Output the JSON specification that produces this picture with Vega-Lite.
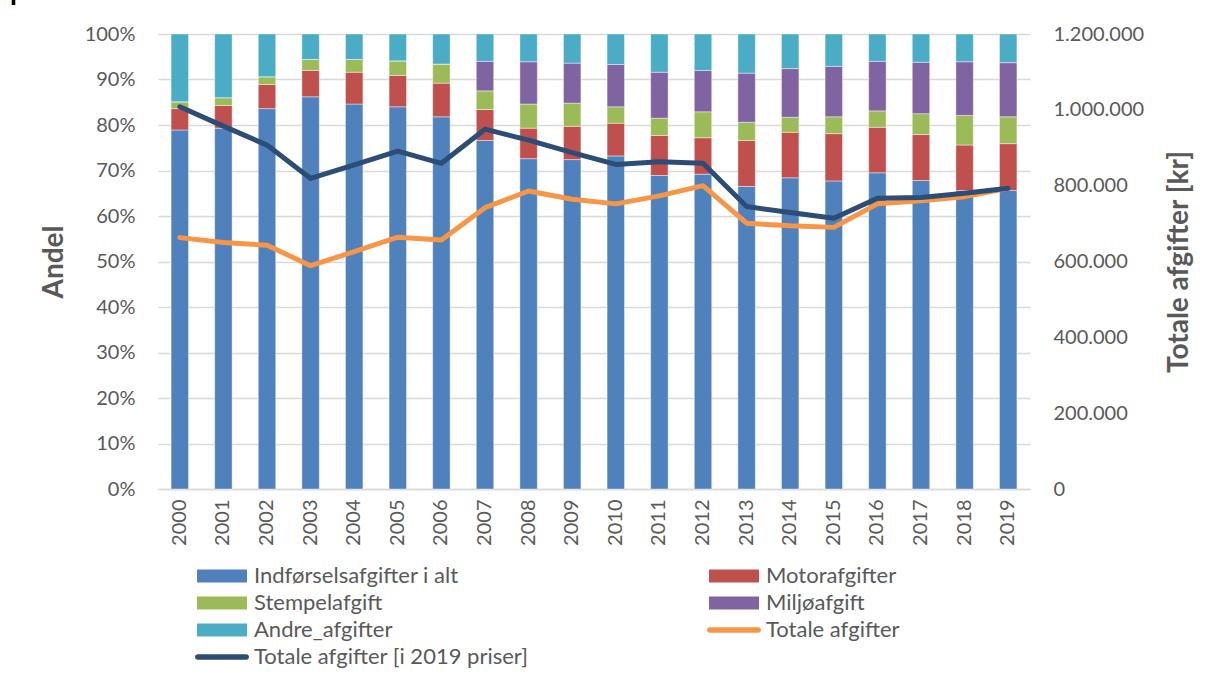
{
  "$schema": "https://vega.github.io/schema/vega-lite/v6.json",
  "autosize": {"type": "none"},
  "padding": {"left": 158, "top": 34, "right": 176, "bottom": 188},
  "width": 872,
  "height": 455,
  "background": "white",
  "title": {"text": "priser.", "anchor": "start", "frame": "group", "orient": "top", "font": "Lato", "fontSize": 28, "fontWeight": "bold", "color": "#000000", "baseline": "alphabetic", "offset": 0, "dx": -148, "dy": 4},
  "datasets": {
    "bars": [
      {"year": "2000", "series": "Indførselsafgifter i alt", "k": 1, "share": 78.9},
      {"year": "2000", "series": "Motorafgifter", "k": 2, "share": 4.7},
      {"year": "2000", "series": "Stempelafgift", "k": 3, "share": 1.5},
      {"year": "2000", "series": "Miljøafgift", "k": 4, "share": 0},
      {"year": "2000", "series": "Andre_afgifter", "k": 5, "share": 14.9},
      {"year": "2001", "series": "Indførselsafgifter i alt", "k": 1, "share": 79.3},
      {"year": "2001", "series": "Motorafgifter", "k": 2, "share": 5.0},
      {"year": "2001", "series": "Stempelafgift", "k": 3, "share": 1.7},
      {"year": "2001", "series": "Miljøafgift", "k": 4, "share": 0},
      {"year": "2001", "series": "Andre_afgifter", "k": 5, "share": 14.0},
      {"year": "2002", "series": "Indførselsafgifter i alt", "k": 1, "share": 83.6},
      {"year": "2002", "series": "Motorafgifter", "k": 2, "share": 5.3},
      {"year": "2002", "series": "Stempelafgift", "k": 3, "share": 1.7},
      {"year": "2002", "series": "Miljøafgift", "k": 4, "share": 0},
      {"year": "2002", "series": "Andre_afgifter", "k": 5, "share": 9.4},
      {"year": "2003", "series": "Indførselsafgifter i alt", "k": 1, "share": 86.2},
      {"year": "2003", "series": "Motorafgifter", "k": 2, "share": 5.8},
      {"year": "2003", "series": "Stempelafgift", "k": 3, "share": 2.4},
      {"year": "2003", "series": "Miljøafgift", "k": 4, "share": 0},
      {"year": "2003", "series": "Andre_afgifter", "k": 5, "share": 5.6},
      {"year": "2004", "series": "Indførselsafgifter i alt", "k": 1, "share": 84.6},
      {"year": "2004", "series": "Motorafgifter", "k": 2, "share": 7.0},
      {"year": "2004", "series": "Stempelafgift", "k": 3, "share": 2.8},
      {"year": "2004", "series": "Miljøafgift", "k": 4, "share": 0},
      {"year": "2004", "series": "Andre_afgifter", "k": 5, "share": 5.6},
      {"year": "2005", "series": "Indførselsafgifter i alt", "k": 1, "share": 84.0},
      {"year": "2005", "series": "Motorafgifter", "k": 2, "share": 6.9},
      {"year": "2005", "series": "Stempelafgift", "k": 3, "share": 3.2},
      {"year": "2005", "series": "Miljøafgift", "k": 4, "share": 0},
      {"year": "2005", "series": "Andre_afgifter", "k": 5, "share": 5.9},
      {"year": "2006", "series": "Indførselsafgifter i alt", "k": 1, "share": 81.8},
      {"year": "2006", "series": "Motorafgifter", "k": 2, "share": 7.4},
      {"year": "2006", "series": "Stempelafgift", "k": 3, "share": 4.2},
      {"year": "2006", "series": "Miljøafgift", "k": 4, "share": 0},
      {"year": "2006", "series": "Andre_afgifter", "k": 5, "share": 6.6},
      {"year": "2007", "series": "Indførselsafgifter i alt", "k": 1, "share": 76.6},
      {"year": "2007", "series": "Motorafgifter", "k": 2, "share": 6.8},
      {"year": "2007", "series": "Stempelafgift", "k": 3, "share": 4.1},
      {"year": "2007", "series": "Miljøafgift", "k": 4, "share": 6.5},
      {"year": "2007", "series": "Andre_afgifter", "k": 5, "share": 6.0},
      {"year": "2008", "series": "Indførselsafgifter i alt", "k": 1, "share": 72.6},
      {"year": "2008", "series": "Motorafgifter", "k": 2, "share": 6.7},
      {"year": "2008", "series": "Stempelafgift", "k": 3, "share": 5.3},
      {"year": "2008", "series": "Miljøafgift", "k": 4, "share": 9.3},
      {"year": "2008", "series": "Andre_afgifter", "k": 5, "share": 6.1},
      {"year": "2009", "series": "Indførselsafgifter i alt", "k": 1, "share": 72.4},
      {"year": "2009", "series": "Motorafgifter", "k": 2, "share": 7.3},
      {"year": "2009", "series": "Stempelafgift", "k": 3, "share": 5.1},
      {"year": "2009", "series": "Miljøafgift", "k": 4, "share": 8.8},
      {"year": "2009", "series": "Andre_afgifter", "k": 5, "share": 6.4},
      {"year": "2010", "series": "Indførselsafgifter i alt", "k": 1, "share": 73.2},
      {"year": "2010", "series": "Motorafgifter", "k": 2, "share": 7.2},
      {"year": "2010", "series": "Stempelafgift", "k": 3, "share": 3.6},
      {"year": "2010", "series": "Miljøafgift", "k": 4, "share": 9.3},
      {"year": "2010", "series": "Andre_afgifter", "k": 5, "share": 6.7},
      {"year": "2011", "series": "Indførselsafgifter i alt", "k": 1, "share": 68.9},
      {"year": "2011", "series": "Motorafgifter", "k": 2, "share": 8.8},
      {"year": "2011", "series": "Stempelafgift", "k": 3, "share": 3.8},
      {"year": "2011", "series": "Miljøafgift", "k": 4, "share": 10.1},
      {"year": "2011", "series": "Andre_afgifter", "k": 5, "share": 8.4},
      {"year": "2012", "series": "Indførselsafgifter i alt", "k": 1, "share": 69.2},
      {"year": "2012", "series": "Motorafgifter", "k": 2, "share": 8.0},
      {"year": "2012", "series": "Stempelafgift", "k": 3, "share": 5.7},
      {"year": "2012", "series": "Miljøafgift", "k": 4, "share": 9.1},
      {"year": "2012", "series": "Andre_afgifter", "k": 5, "share": 8.0},
      {"year": "2013", "series": "Indførselsafgifter i alt", "k": 1, "share": 66.5},
      {"year": "2013", "series": "Motorafgifter", "k": 2, "share": 10.1},
      {"year": "2013", "series": "Stempelafgift", "k": 3, "share": 4.0},
      {"year": "2013", "series": "Miljøafgift", "k": 4, "share": 10.8},
      {"year": "2013", "series": "Andre_afgifter", "k": 5, "share": 8.6},
      {"year": "2014", "series": "Indførselsafgifter i alt", "k": 1, "share": 68.4},
      {"year": "2014", "series": "Motorafgifter", "k": 2, "share": 10.0},
      {"year": "2014", "series": "Stempelafgift", "k": 3, "share": 3.3},
      {"year": "2014", "series": "Miljøafgift", "k": 4, "share": 10.7},
      {"year": "2014", "series": "Andre_afgifter", "k": 5, "share": 7.6},
      {"year": "2015", "series": "Indførselsafgifter i alt", "k": 1, "share": 67.7},
      {"year": "2015", "series": "Motorafgifter", "k": 2, "share": 10.4},
      {"year": "2015", "series": "Stempelafgift", "k": 3, "share": 3.7},
      {"year": "2015", "series": "Miljøafgift", "k": 4, "share": 11.1},
      {"year": "2015", "series": "Andre_afgifter", "k": 5, "share": 7.1},
      {"year": "2016", "series": "Indførselsafgifter i alt", "k": 1, "share": 69.5},
      {"year": "2016", "series": "Motorafgifter", "k": 2, "share": 10.0},
      {"year": "2016", "series": "Stempelafgift", "k": 3, "share": 3.6},
      {"year": "2016", "series": "Miljøafgift", "k": 4, "share": 10.9},
      {"year": "2016", "series": "Andre_afgifter", "k": 5, "share": 6.0},
      {"year": "2017", "series": "Indførselsafgifter i alt", "k": 1, "share": 67.8},
      {"year": "2017", "series": "Motorafgifter", "k": 2, "share": 10.1},
      {"year": "2017", "series": "Stempelafgift", "k": 3, "share": 4.6},
      {"year": "2017", "series": "Miljøafgift", "k": 4, "share": 11.3},
      {"year": "2017", "series": "Andre_afgifter", "k": 5, "share": 6.2},
      {"year": "2018", "series": "Indførselsafgifter i alt", "k": 1, "share": 65.6},
      {"year": "2018", "series": "Motorafgifter", "k": 2, "share": 10.0},
      {"year": "2018", "series": "Stempelafgift", "k": 3, "share": 6.5},
      {"year": "2018", "series": "Miljøafgift", "k": 4, "share": 11.8},
      {"year": "2018", "series": "Andre_afgifter", "k": 5, "share": 6.1},
      {"year": "2019", "series": "Indførselsafgifter i alt", "k": 1, "share": 65.6},
      {"year": "2019", "series": "Motorafgifter", "k": 2, "share": 10.3},
      {"year": "2019", "series": "Stempelafgift", "k": 3, "share": 5.9},
      {"year": "2019", "series": "Miljøafgift", "k": 4, "share": 11.9},
      {"year": "2019", "series": "Andre_afgifter", "k": 5, "share": 6.3}
    ],
    "lines": [
      {"year": "2000", "series": "Totale afgifter", "kr": 663000},
      {"year": "2001", "series": "Totale afgifter", "kr": 650000},
      {"year": "2002", "series": "Totale afgifter", "kr": 643000},
      {"year": "2003", "series": "Totale afgifter", "kr": 589000},
      {"year": "2004", "series": "Totale afgifter", "kr": 626000},
      {"year": "2005", "series": "Totale afgifter", "kr": 664000},
      {"year": "2006", "series": "Totale afgifter", "kr": 657000},
      {"year": "2007", "series": "Totale afgifter", "kr": 742000},
      {"year": "2008", "series": "Totale afgifter", "kr": 786000},
      {"year": "2009", "series": "Totale afgifter", "kr": 764000},
      {"year": "2010", "series": "Totale afgifter", "kr": 752000},
      {"year": "2011", "series": "Totale afgifter", "kr": 773000},
      {"year": "2012", "series": "Totale afgifter", "kr": 800000},
      {"year": "2013", "series": "Totale afgifter", "kr": 701000},
      {"year": "2014", "series": "Totale afgifter", "kr": 694000},
      {"year": "2015", "series": "Totale afgifter", "kr": 690000},
      {"year": "2016", "series": "Totale afgifter", "kr": 752000},
      {"year": "2017", "series": "Totale afgifter", "kr": 760000},
      {"year": "2018", "series": "Totale afgifter", "kr": 771000},
      {"year": "2019", "series": "Totale afgifter", "kr": 793000},
      {"year": "2000", "series": "Totale afgifter [i 2019 priser]", "kr": 1008000},
      {"year": "2001", "series": "Totale afgifter [i 2019 priser]", "kr": 957000},
      {"year": "2002", "series": "Totale afgifter [i 2019 priser]", "kr": 907000},
      {"year": "2003", "series": "Totale afgifter [i 2019 priser]", "kr": 819000},
      {"year": "2004", "series": "Totale afgifter [i 2019 priser]", "kr": 855000},
      {"year": "2005", "series": "Totale afgifter [i 2019 priser]", "kr": 891000},
      {"year": "2006", "series": "Totale afgifter [i 2019 priser]", "kr": 859000},
      {"year": "2007", "series": "Totale afgifter [i 2019 priser]", "kr": 949000},
      {"year": "2008", "series": "Totale afgifter [i 2019 priser]", "kr": 920000},
      {"year": "2009", "series": "Totale afgifter [i 2019 priser]", "kr": 887000},
      {"year": "2010", "series": "Totale afgifter [i 2019 priser]", "kr": 856000},
      {"year": "2011", "series": "Totale afgifter [i 2019 priser]", "kr": 863000},
      {"year": "2012", "series": "Totale afgifter [i 2019 priser]", "kr": 859000},
      {"year": "2013", "series": "Totale afgifter [i 2019 priser]", "kr": 745000},
      {"year": "2014", "series": "Totale afgifter [i 2019 priser]", "kr": 729000},
      {"year": "2015", "series": "Totale afgifter [i 2019 priser]", "kr": 714000},
      {"year": "2016", "series": "Totale afgifter [i 2019 priser]", "kr": 767000},
      {"year": "2017", "series": "Totale afgifter [i 2019 priser]", "kr": 769000},
      {"year": "2018", "series": "Totale afgifter [i 2019 priser]", "kr": 780000},
      {"year": "2019", "series": "Totale afgifter [i 2019 priser]", "kr": 793000}
    ]
  },
  "layer": [
    {
      "data": {"name": "bars"},
      "mark": {"type": "bar", "stroke": "white", "strokeWidth": 0.6, "strokeOpacity": 0.7},
      "encoding": {
        "x": {
          "field": "year", "type": "nominal",
          "scale": {"paddingInner": 0.6, "paddingOuter": 0.3},
          "axis": {"title": null, "labelAngle": -90, "labelPadding": 10, "domain": true, "domainColor": "#d9d9d9", "domainWidth": 1.5}
        },
        "y": {
          "field": "share", "type": "quantitative", "stack": "normalize",
          "axis": {"title": "Andel", "format": ".0%", "values": [0, 0.1, 0.2, 0.3, 0.4, 0.5, 0.6, 0.7, 0.8, 0.9, 1], "grid": true, "gridColor": "#d9d9d9", "gridWidth": 1.5, "labelPadding": 23, "titlePadding": 16}
        },
        "order": {"field": "k", "type": "quantitative", "sort": "ascending"},
        "color": {
          "field": "series", "type": "nominal",
          "sort": ["Indførselsafgifter i alt", "Motorafgifter", "Stempelafgift", "Miljøafgift", "Andre_afgifter", "Totale afgifter", "Totale afgifter [i 2019 priser]"],
          "scale": {
            "domain": ["Indførselsafgifter i alt", "Motorafgifter", "Stempelafgift", "Miljøafgift", "Andre_afgifter", "Totale afgifter", "Totale afgifter [i 2019 priser]"],
            "range": ["#4f81bd", "#c0504d", "#9bbb59", "#8064a2", "#4bacc6", "#f79646", "#2c4d75"]
          },
          "legend": {
            "title": null, "orient": "none", "legendX": 38, "legendY": 531, "direction": "horizontal",
            "columns": 2, "columnPadding": 178, "rowPadding": 5, "padding": 0,
            "symbolSize": 400, "symbolStrokeWidth": 0, "symbolOpacity": 1,
            "symbolType": {"expr": "indexof(datum.value, 'Totale') === 0 ? 'M-0.92,-0.28H3.92A0.28,0.28 0 0 1 3.92,0.28H-0.92A0.28,0.28 0 0 1 -0.92,-0.28Z' : 'M-1,-0.65H4V0.65H-1Z'"},
            "labelFont": "Lato", "labelFontSize": 22, "labelColor": "#595959",
            "labelOffset": 36, "labelLimit": 500
          }
        }
      }
    },
    {
      "data": {"name": "lines"},
      "mark": {"type": "line", "strokeWidth": 5, "strokeCap": "round", "strokeJoin": "round"},
      "encoding": {
        "x": {"field": "year", "type": "nominal"},
        "y": {
          "field": "kr", "type": "quantitative",
          "scale": {"domain": [0, 1200000], "nice": false},
          "axis": {"orient": "right", "title": "Totale afgifter [kr]", "values": [0, 200000, 400000, 600000, 800000, 1000000, 1200000], "format": ",.0f", "labelPadding": 23, "titlePadding": 22, "titleAngle": 270, "titleBaseline": "top", "grid": false}
        },
        "color": {"field": "series", "type": "nominal", "sort": ["Indførselsafgifter i alt", "Motorafgifter", "Stempelafgift", "Miljøafgift", "Andre_afgifter", "Totale afgifter", "Totale afgifter [i 2019 priser]"]}
      }
    }
  ],
  "resolve": {"scale": {"y": "independent"}},
  "config": {
    "font": "Lato",
    "view": {"stroke": null},
    "axis": {"labelFont": "Lato", "labelColor": "#595959", "labelFontSize": 20, "titleFont": "Lato", "titleColor": "#595959", "titleFontSize": 28, "titleFontWeight": "bold", "ticks": false, "tickSize": 0, "domain": false, "grid": false},
    "locale": {"number": {"decimal": ",", "thousands": ".", "grouping": [3], "currency": ["", " kr"]}}
  }
}
